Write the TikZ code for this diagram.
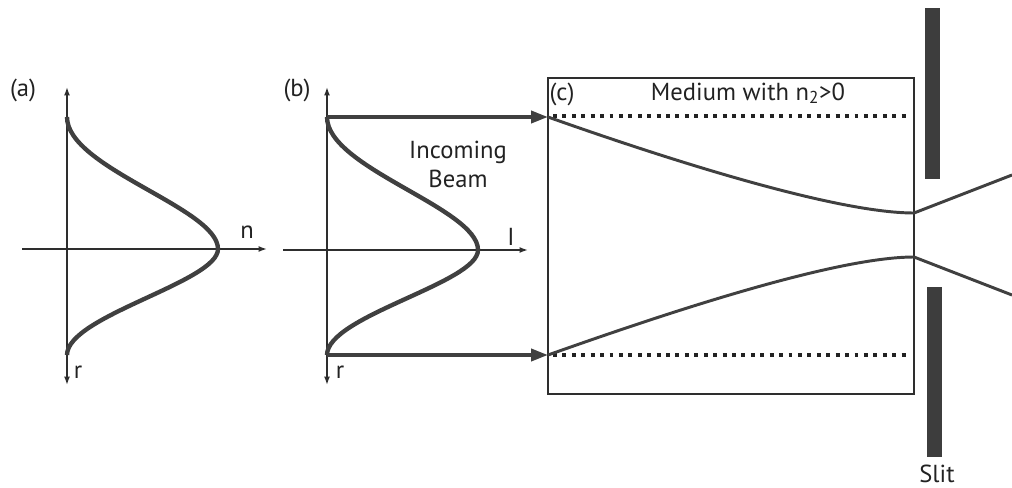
\documentclass[tikz,border=0pt]{standalone}
\usepackage{fontspec}
\setmainfont{PT Sans}
\usetikzlibrary{arrows.meta,positioning}
\definecolor{beamgray}{HTML}{404040}
\definecolor{axisgray}{HTML}{2E2E2E}
\definecolor{slitgray}{HTML}{3D3D3D}
\definecolor{inkgray}{HTML}{222222}

\begin{document}
\begin{tikzpicture}[
  x=0.025cm, y=-0.025cm,
  axisline/.style={draw=axisgray, line width=1pt},
  axistip/.style={-{Latex[length=6pt,width=4.2pt]}},
  bothtips/.style={{Latex[length=6pt,width=4.2pt]}-{Latex[length=6pt,width=4.2pt]}},
  profile/.style={draw=beamgray, line width=3.1pt},
  beamarrow/.style={draw=beamgray, line width=2.6pt, -{Triangle[length=12pt,width=8.5pt]}},
  beamline/.style={draw=beamgray, line width=2.1pt},
  dotline/.style={draw=inkgray, line width=2.8pt, dash pattern=on 2.8pt off 3.9pt},
  slitbar/.style={fill=slitgray, draw=none},
  lbl/.style={font=\fontsize{17.5}{20.6}\selectfont, inner sep=0pt, anchor=base, text=inkgray},
]
\useasboundingbox (0,0) rectangle (1012,487);

% (a) refractive index profile
\coordinate (atop) at (67,87);
\coordinate (abot) at (67,385);
\coordinate (aleft) at (22,249);
\coordinate (aright) at (267,249);
\draw[axisline, bothtips] (abot) -- (atop);
\draw[axisline, axistip] (aleft) -- (aright);
\draw[profile] (67,117) .. controls (67,168) and (218,208) .. (218,249)
  .. controls (218,282) and (67,316) .. (67,355);
\node[lbl] (alabel) at (23,96) {(a)};
\node[lbl] (nlabel) at (247,238) {n};
\node[lbl] (ralabel) at (78,378) {r};

% (b) intensity profile
\coordinate (btop) at (327,87);
\coordinate (bbot) at (327,385);
\coordinate (bleft) at (283,250);
\coordinate (bright) at (528,250);
\coordinate (bup) at (327,117);
\coordinate (bdown) at (327,355);
\draw[axisline, bothtips] (bbot) -- (btop);
\draw[axisline, axistip] (bleft) -- (bright);
\draw[profile] (bup) .. controls (327,168) and (478,208) .. (478,250)
  .. controls (478,283) and (327,316) .. (bdown);
\node[lbl] (blabel) at (297,96) {(b)};
\node[lbl] (ilabel) at (511,245) {I};
\node[lbl] (rblabel) at (340,378) {r};
\node[lbl, anchor=center, align=center] (incoming) at (458,164) {Incoming\\Beam};

% (c) medium
\coordinate (cup) at (548,117);
\coordinate (cdown) at (548,355);
\coordinate (waistup) at (914,213);
\coordinate (waistdown) at (914,257);
\coordinate (outup) at (1012,175);
\coordinate (outdown) at (1012,295);
\draw[beamarrow] (bup) -- (cup);
\draw[beamarrow] (bdown) -- (cdown);
\draw[axisline] (548,78) rectangle (914,394);
\draw[dotline] (553,116) -- (910,116);
\draw[dotline] (553,355) -- (910,355);
\draw[beamline] (cup) .. controls (658,156) and (833,213) .. (waistup) -- (outup);
\draw[beamline] (cdown) .. controls (658,316) and (833,257) .. (waistdown) -- (outdown);
\node[lbl] (clabel) at (562,100) {(c)};
\node[lbl] (medium) at (748,100) {Medium with n\textsubscript{2}>0};

% slit
\fill[slitbar] (925,8) rectangle (940,179);
\fill[slitbar] (927,287) rectangle (942,457);
\node[lbl] (slit) at (937,482) {Slit};
\end{tikzpicture}
\end{document}
